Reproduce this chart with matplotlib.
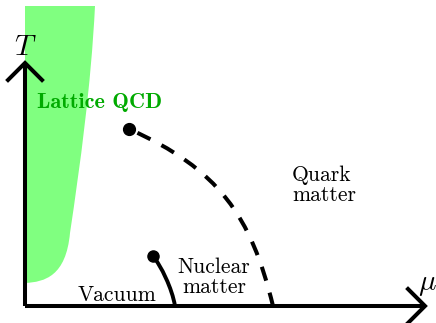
import matplotlib
matplotlib.use("Agg")
import matplotlib.pyplot as plt
from matplotlib.path import Path
from matplotlib.patches import PathPatch

plt.rcParams['mathtext.fontset'] = 'cm'

# Diagram data (mu, T) in arbitrary units, origin at the axes corner
critical_point = (104, 177)
nuclear_endpoint = (128, 50)
# cubic Bezier control points of the first-order / crossover line
transition_ctrl = [(104, 177), (194, 137), (226, 90), (248, 0)]
# cubic Bezier control points of the nuclear liquid-gas line
nuclear_ctrl = [(128, 50), (136, 40), (147, 18), (150, 0)]
# Lattice QCD region boundary
lattice_verts = [(0, 300), (70, 300),
                 (66, 220), (55, 140), (45, 73),
                 (41, 30), (20, 24), (0, 23),
                 (0, 300)]
lattice_codes = [Path.MOVETO, Path.LINETO,
                 Path.CURVE4, Path.CURVE4, Path.CURVE4,
                 Path.CURVE4, Path.CURVE4, Path.CURVE4,
                 Path.CLOSEPOLY]

fig = plt.figure(figsize=(4.36, 3.23), dpi=100)
ax = fig.add_axes([0, 0, 1, 1])
ax.set_xlim(-25, 411)
ax.set_ylim(-17, 306)
ax.axis('off')

# Lattice region
ax.add_patch(PathPatch(Path(lattice_verts, lattice_codes), facecolor='#80ff80',
                       edgecolor='none', zorder=1))

lw = 2.9
# Axes with arrowheads
ax.plot([0, 0], [0, 243], color='black', lw=lw, solid_capstyle='butt', zorder=3)
ax.plot([0, 400], [0, 0], color='black', lw=lw, solid_capstyle='butt', zorder=3)
ax.plot([-17, 0, 17], [226, 243, 226], color='black', lw=lw, solid_joinstyle='miter', zorder=3)
ax.plot([383, 400, 383], [17, 0, -17], color='black', lw=lw, solid_joinstyle='miter', zorder=3)

# Transition line (dashed)
tpath = Path(transition_ctrl, [Path.MOVETO, Path.CURVE4, Path.CURVE4, Path.CURVE4])
ax.add_patch(PathPatch(tpath, facecolor='none', edgecolor='black', lw=lw,
                       linestyle=(4.4, (3.6, 3.1)), capstyle='butt', zorder=3))
# Nuclear line (solid)
npath = Path(nuclear_ctrl, [Path.MOVETO, Path.CURVE4, Path.CURVE4, Path.CURVE4])
ax.add_patch(PathPatch(npath, facecolor='none', edgecolor='black', lw=2.8, zorder=3))

ax.plot(*critical_point, 'o', color='black', ms=8.5, zorder=4)
ax.plot(*nuclear_endpoint, 'o', color='black', ms=8, zorder=4)

# Labels
ax.text(0, 259, r'$T$', fontsize=21, ha='center', va='center', zorder=5)
ax.text(402, 22, r'$\mu$', fontsize=21, ha='center', va='center', zorder=5)
ax.text(12, 203, 'Lattice QCD', family='cmb10', fontsize=16, color='#00aa00',
        ha='left', va='center', zorder=5)
ax.text(92, 11, 'Vacuum', family='cmr10', fontsize=15.5, ha='center', va='center', zorder=5)
ax.text(189, 29, 'Nuclear\nmatter', family='cmr10', fontsize=15.5, ha='center',
        va='center', multialignment='center', linespacing=1.0, zorder=5)
ax.text(267, 121, 'Quark\nmatter', family='cmr10', fontsize=15.5, ha='left',
        va='center', multialignment='left', linespacing=1.0, zorder=5)

fig.savefig('out.png', dpi=100)
